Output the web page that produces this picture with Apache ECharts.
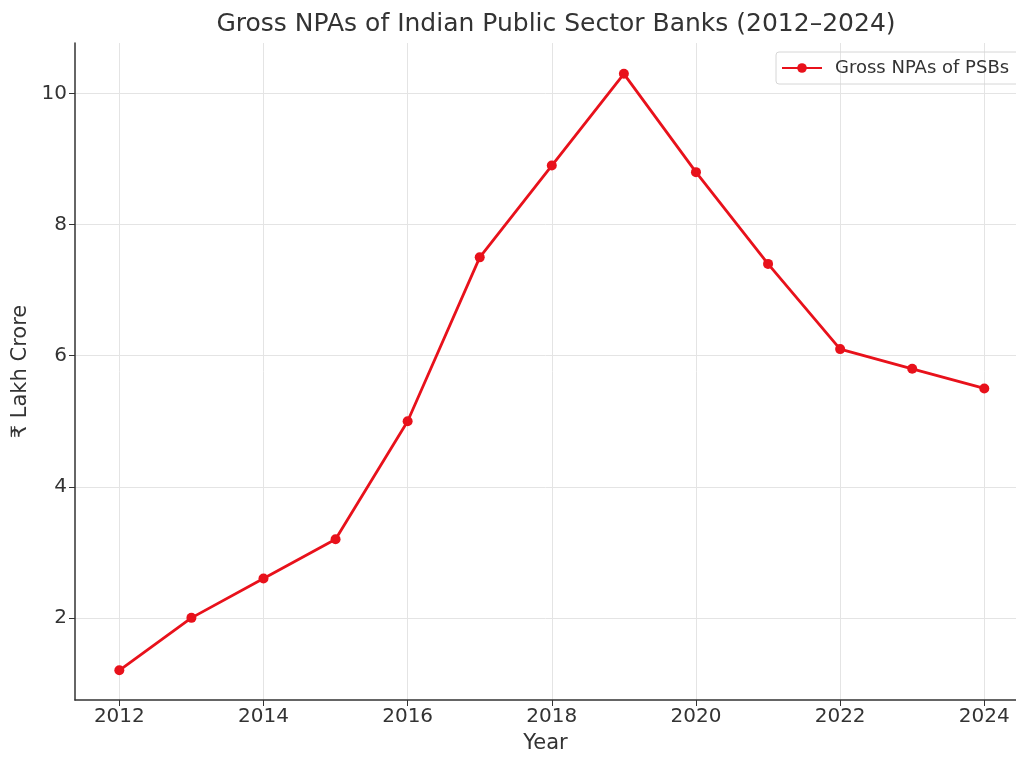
<!DOCTYPE html>
<html>
<head>
<meta charset="utf-8">
<title>Gross NPAs of Indian Public Sector Banks</title>
<script src="https://cdn.jsdelivr.net/npm/echarts@6/dist/echarts.min.js"></script>
<style>
  html, body { margin: 0; padding: 0; background: #fff; overflow: hidden; }
  #main { width: 1016px; height: 759px; }
</style>
</head>
<body>
<div id="main"></div>
<script>
// data
const years = [2012, 2013, 2014, 2015, 2016, 2017, 2018, 2019, 2020, 2021, 2022, 2023, 2024];
const grossNpa = [1.2, 2.0, 2.6, 3.2, 5.0, 7.5, 8.9, 10.3, 8.8, 7.4, 6.1, 5.8, 5.5];
const xTicks = [2012, 2014, 2016, 2018, 2020, 2022, 2024];
const yTicks = [2, 4, 6, 8, 10];

const font = 'DejaVu Sans';
const red = '#e8111b';
const ink = '#333';

let chart = echarts.init(document.getElementById('main'), null, { renderer: 'canvas' });

chart.setOption({
  backgroundColor: '#fff',
  animation: false,
  textStyle: { fontFamily: font },
  title: {
    text: 'Gross NPAs of Indian Public Sector Banks (2012\u20132024)',
    left: 551,
    textAlign: 'center',
    top: 7,
    textStyle: { fontFamily: font, fontSize: 25, fontWeight: 'normal', color: ink }
  },
  legend: {
    left: 776,
    top: 52,
    padding: [7, 10, 7, 5],
    itemWidth: 40,
    itemHeight: 12,
    borderColor: '#d6d6d6',
    borderWidth: 1,
    borderRadius: 3,
    textStyle: { fontFamily: font, fontSize: 18, color: ink, padding: [0, 0, 0, 8] },
    data: ['Gross NPAs of PSBs']
  },
  grid: { left: 75, right: 0, top: 43, bottom: 52, containLabel: false },
  xAxis: {
    type: 'value',
    min: 2011.385,
    max: 2024.44,
    name: 'Year',
    nameLocation: 'middle',
    nameGap: 33,
    nameTextStyle: { fontFamily: font, fontSize: 21, color: ink },
    axisLine: { show: true, onZero: false, lineStyle: { color: ink, width: 1.5 } },
    axisTick: { show: true, length: 6, customValues: xTicks, lineStyle: { color: ink } },
    axisLabel: {
      customValues: xTicks,
      fontFamily: font, fontSize: 20, color: ink, margin: 7,
      formatter: v => String(v)
    },
    splitLine: { show: true, lineStyle: { color: '#e4e4e4', width: 1 } }
  },
  yAxis: {
    type: 'value',
    min: 0.747,
    max: 10.77,
    name: '\u20b9 Lakh Crore',
    nameLocation: 'middle',
    nameGap: 43,
    nameTextStyle: { fontFamily: font, fontSize: 21, color: ink },
    axisLine: { show: true, onZero: false, lineStyle: { color: ink, width: 1.5 } },
    axisTick: { show: true, length: 6, customValues: yTicks, lineStyle: { color: ink } },
    axisLabel: {
      customValues: yTicks,
      fontFamily: font, fontSize: 20, color: ink, margin: 8,
      formatter: v => String(v)
    },
    splitLine: { show: true, lineStyle: { color: '#e4e4e4', width: 1 } }
  },
  series: [
    {
      name: 'Gross NPAs of PSBs',
      type: 'line',
      data: years.map((y, i) => [y, grossNpa[i]]),
      symbol: 'circle',
      symbolSize: 10,
      showSymbol: true,
      lineStyle: { color: red, width: 2.8 },
      itemStyle: { color: red },
      clip: false
    }
  ]
});

window.addEventListener('resize', function() {
  chart.resize();
});
</script>
</body>
</html>
